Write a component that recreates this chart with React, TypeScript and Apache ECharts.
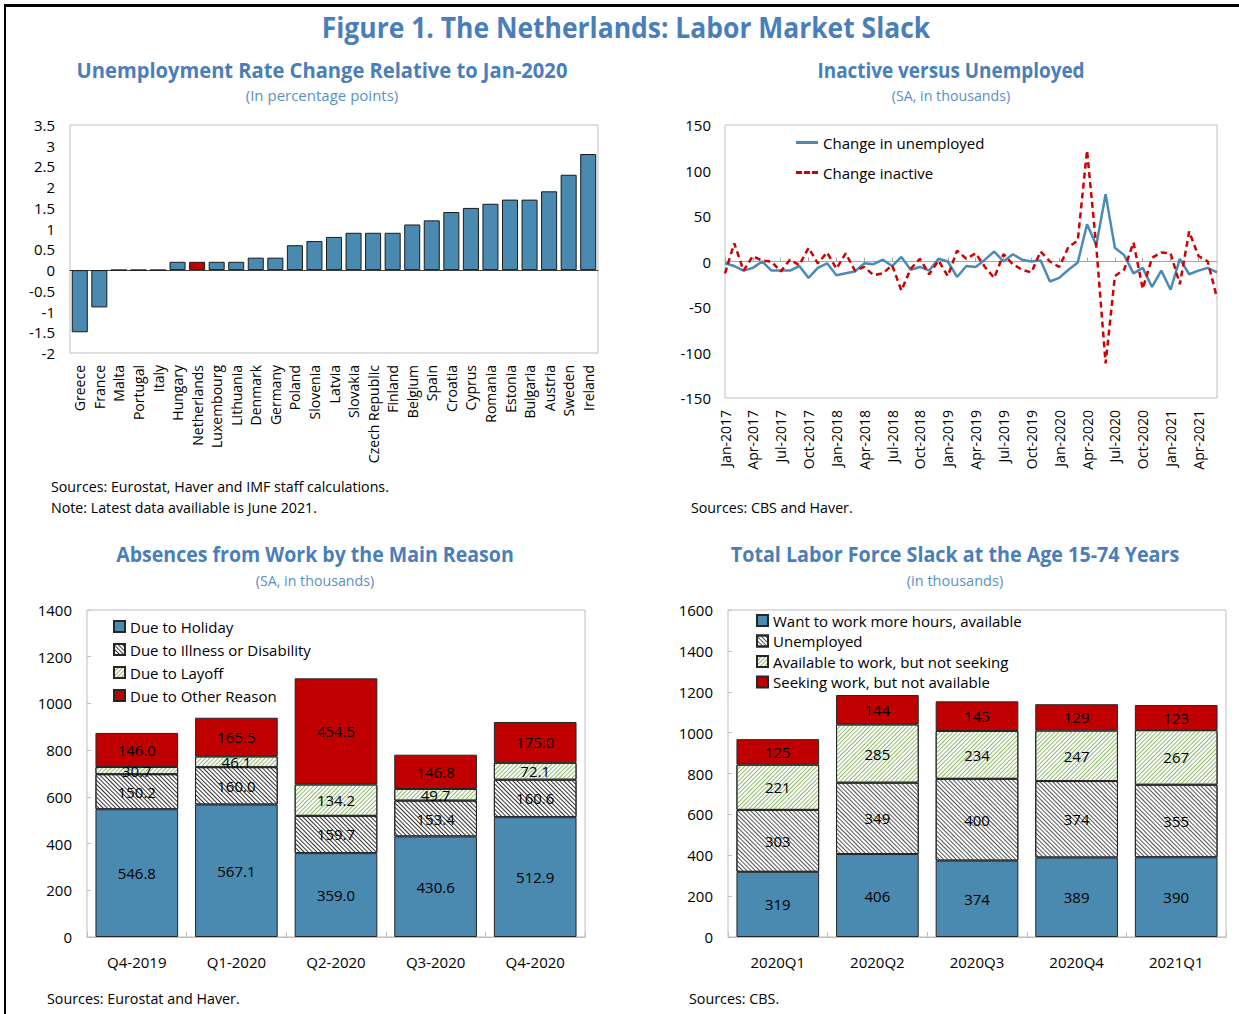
import React, { useEffect, useRef } from "react";
import * as echarts from "echarts";

const FONT = "'Open Sans', 'Noto Sans', sans-serif";
const TITLE_COLOR = "#4a7ebb";
const SUB_COLOR = "#5b8fc7";
const BLUE = "#4a89b0";
const RED = "#c00000";

// Top-left: unemployment rate change (pp)
const countries = [
  "Greece", "France", "Malta", "Portugal", "Italy", "Hungary", "Netherlands", "Luxembourg",
  "Lithuania", "Denmark", "Germany", "Poland", "Slovenia", "Latvia", "Slovakia", "Czech Republic",
  "Finland", "Belgium", "Spain", "Croatia", "Cyprus", "Romania", "Estonia", "Bulgaria",
  "Austria", "Sweden", "Ireland",
];
const rateChange = [
  -1.5, -0.9, 0, 0, 0, 0.2, 0.2, 0.2, 0.2, 0.3, 0.3, 0.6, 0.7, 0.8, 0.9, 0.9, 0.9, 1.1, 1.2, 1.4,
  1.5, 1.6, 1.7, 1.7, 1.9, 2.3, 2.8,
];
const yTicksTL = { min: -2, max: 3.5, step: 0.5 };

// Top-right: inactive vs unemployed (monthly, Jan-2017 .. Jun-2021)
const months = [
  "Jan-2017", "Feb-2017", "Mar-2017", "Apr-2017", "May-2017", "Jun-2017", "Jul-2017", "Aug-2017", "Sep-2017", "Oct-2017", "Nov-2017", "Dec-2017",
  "Jan-2018", "Feb-2018", "Mar-2018", "Apr-2018", "May-2018", "Jun-2018", "Jul-2018", "Aug-2018", "Sep-2018", "Oct-2018", "Nov-2018", "Dec-2018",
  "Jan-2019", "Feb-2019", "Mar-2019", "Apr-2019", "May-2019", "Jun-2019", "Jul-2019", "Aug-2019", "Sep-2019", "Oct-2019", "Nov-2019", "Dec-2019",
  "Jan-2020", "Feb-2020", "Mar-2020", "Apr-2020", "May-2020", "Jun-2020", "Jul-2020", "Aug-2020", "Sep-2020", "Oct-2020", "Nov-2020", "Dec-2020",
  "Jan-2021", "Feb-2021", "Mar-2021", "Apr-2021", "May-2021", "Jun-2021",
];
const unemployedChange = [
  -2, -5, -10, -7, 0, -10, -10, -10, -5, -18, -7, -2,
  -15, -13, -11, -2, -3, 2, -5, 5, -9, -6, -10, 3,
  0, -17, -5, -6, 2, 11, 0, 8, 2, 0, 1, -22,
  -18, -9, -1, 41, 18, 74, 15, 7, -13, -7, -28, -10,
  -31, 3, -14, -10, -7, -12,
];
const inactiveChange = [
  -13, 20, -10, 6, 1, 0, -11, 2, -4, 15, -2, 10,
  -8, 9, -10, -6, -15, -13, -4, -32, -8, 3, -14, 1,
  -16, 12, 3, 9, -6, -18, 8, -3, -9, -12, 11, 0,
  -6, 16, 23, 122, 16, -112, -16, -9, 21, -30, 4, 10,
  9, -25, 33, 6, 0, -40,
];
const yTicksTR = { min: -150, max: 150, step: 50 };

// Bottom-left: absences from work
const quartersAbs = ["Q4-2019", "Q1-2020", "Q2-2020", "Q3-2020", "Q4-2020"];
const holiday = [546.8, 567.1, 359.0, 430.6, 512.9];
const illness = [150.2, 160.0, 159.7, 153.4, 160.6];
const layoff = [30.7, 46.1, 134.2, 49.7, 72.1];
const otherReason = [146.0, 165.5, 454.5, 146.8, 175.0];
const yTicksBL = { min: 0, max: 1400, step: 200 };

// Bottom-right: labor force slack
const quartersSlack = ["2020Q1", "2020Q2", "2020Q3", "2020Q4", "2021Q1"];
const moreHours = [319, 406, 374, 389, 390];
const unemployed = [303, 349, 400, 374, 355];
const availNotSeeking = [221, 285, 234, 247, 267];
const seekingNotAvail = [125, 144, 145, 129, 123];
const yTicksBR = { min: 0, max: 1600, step: 200 };

const hatchDark = (color: string) => ({
  symbol: "rect",
  symbolSize: 1,
  color,
  backgroundColor: "#ffffff",
  dashArrayX: [1, 0],
  dashArrayY: [1, 2],
  rotation: Math.PI / 4,
});
const hatchGreen = {
  symbol: "rect",
  symbolSize: 1,
  color: "#8fba6c",
  backgroundColor: "#ffffff",
  dashArrayX: [1, 0],
  dashArrayY: [1, 2],
  rotation: -Math.PI / 4,
};

const ICON_SOLID = "path://M0,0H22V3H0Z";
const ICON_DASH = "path://M0,0H6V3H0Z M8,0H14V3H8Z M16,0H22V3H16Z";

function text(x: number, y: number, t: string, size: number, color: string, opts: any = {}) {
  return {
    type: "text",
    x,
    y,
    scaleX: opts.scaleX ?? 1,
    silent: true,
    style: {
      text: t,
      fill: color,
      fontSize: size,
      fontWeight: opts.bold ? "bold" : "normal",
      fontFamily: FONT,
      align: opts.align ?? "center",
      textAlign: opts.align ?? "center",
      verticalAlign: "middle",
      textVerticalAlign: "middle",
    },
  };
}

const axisText = { color: "#000", fontFamily: FONT };
const plainNum = (v: number) => String(v);

export default function App() {
  const ref = useRef<HTMLDivElement>(null);
  useEffect(() => {
    const chart = echarts.init(ref.current!, null, { renderer: "svg" });
    const barStyle = { borderColor: "#262626", borderWidth: 1 };
    const stackLabel = (fmt: (v: number) => string) => ({
      show: true,
      position: "inside",
      color: "#000",
      fontSize: 15,
      fontFamily: FONT,
      formatter: (p: any) => fmt(p.value),
    });
    const option: any = {
      animation: false,
      textStyle: { fontFamily: FONT },
      grid: [
        { left: 70, top: 125, width: 528, height: 228, show: true, borderColor: "#bfbfbf", borderWidth: 1 },
        { left: 725, top: 125, width: 492, height: 273, show: true, borderColor: "#bfbfbf", borderWidth: 1 },
        { left: 87, top: 610, width: 498, height: 327, show: true, borderColor: "#bfbfbf", borderWidth: 1 },
        { left: 728, top: 610, width: 498, height: 327, show: true, borderColor: "#bfbfbf", borderWidth: 1 },
      ],
      xAxis: [
        {
          gridIndex: 0, type: "category", data: countries,
          axisLine: { onZero: true, lineStyle: { color: "#404040", width: 1 } },
          axisTick: { show: false },
          axisLabel: { ...axisText, rotate: 90, margin: 12, fontSize: 14, interval: 0 },
        },
        {
          gridIndex: 1, type: "category", data: months, boundaryGap: false,
          axisLine: { onZero: true, lineStyle: { color: "#a6a6a6", width: 1 } },
          axisTick: { show: true, inside: true, length: 4, interval: (i: number) => i % 3 === 0, lineStyle: { color: "#a6a6a6" } },
          axisLabel: { ...axisText, rotate: 90, margin: 12, fontSize: 14, interval: (i: number) => i % 3 === 0 },
        },
        {
          gridIndex: 2, type: "category", data: quartersAbs,
          axisLine: { lineStyle: { color: "#bfbfbf" } },
          axisTick: { show: true, inside: true, length: 5, lineStyle: { color: "#bfbfbf" } },
          axisLabel: { ...axisText, margin: 17, fontSize: 15 },
        },
        {
          gridIndex: 3, type: "category", data: quartersSlack,
          axisLine: { lineStyle: { color: "#bfbfbf" } },
          axisTick: { show: true, inside: true, length: 5, lineStyle: { color: "#bfbfbf" } },
          axisLabel: { ...axisText, margin: 17, fontSize: 15 },
        },
      ],
      yAxis: [
        {
          gridIndex: 0, type: "value", min: yTicksTL.min, max: yTicksTL.max, interval: yTicksTL.step,
          splitLine: { show: false }, axisLine: { show: false }, axisTick: { show: false },
          axisLabel: { ...axisText, fontSize: 15, margin: 15, formatter: plainNum },
        },
        {
          gridIndex: 1, type: "value", min: yTicksTR.min, max: yTicksTR.max, interval: yTicksTR.step,
          splitLine: { show: false }, axisLine: { show: false }, axisTick: { show: false },
          axisLabel: { ...axisText, fontSize: 15, margin: 14, formatter: plainNum },
        },
        {
          gridIndex: 2, type: "value", min: yTicksBL.min, max: yTicksBL.max, interval: yTicksBL.step,
          splitLine: { show: false }, axisLine: { show: false },
          axisTick: { show: true, inside: true, length: 4, lineStyle: { color: "#bfbfbf" } },
          axisLabel: { ...axisText, fontSize: 15, margin: 15, formatter: plainNum },
        },
        {
          gridIndex: 3, type: "value", min: yTicksBR.min, max: yTicksBR.max, interval: yTicksBR.step,
          splitLine: { show: false }, axisLine: { show: false },
          axisTick: { show: true, inside: true, length: 4, lineStyle: { color: "#bfbfbf" } },
          axisLabel: { ...axisText, fontSize: 15, margin: 15, formatter: plainNum },
        },
      ],
      legend: [
        {
          data: [
            { name: "Change in unemployed", icon: ICON_SOLID },
            { name: "Change inactive", icon: ICON_DASH },
          ],
          orient: "vertical", left: 796, top: 135, padding: 0, itemWidth: 22, itemHeight: 3, itemGap: 15,
          textStyle: { ...axisText, fontSize: 15, lineHeight: 15 },
        },
        {
          data: ["Due to Holiday", "Due to Illness or Disability", "Due to Layoff", "Due to Other Reason"],
          orient: "vertical", left: 113, top: 619, padding: 0, itemWidth: 11, itemHeight: 11, itemGap: 8, icon: "rect",
          textStyle: { ...axisText, fontSize: 15, lineHeight: 15 },
        },
        {
          data: ["Want to work more hours, available", "Unemployed", "Available to work, but not seeking", "Seeking work, but not available"],
          orient: "vertical", left: 756, top: 613, padding: 0, itemWidth: 11, itemHeight: 11, itemGap: 5.5, icon: "rect",
          textStyle: { ...axisText, fontSize: 15, lineHeight: 15 },
        },
      ],
      series: [
        {
          type: "bar", name: "Unemployment rate change", xAxisIndex: 0, yAxisIndex: 0,
          barCategoryGap: "18%",
          data: rateChange.map((v, i) => ({
            value: v,
            itemStyle: { color: countries[i] === "Netherlands" ? RED : BLUE },
          })),
          itemStyle: { borderColor: "#1a1a1a", borderWidth: 1 },
        },
        {
          type: "line", name: "Change in unemployed", xAxisIndex: 1, yAxisIndex: 1,
          data: unemployedChange, symbol: "none", color: "#4a89b8",
          lineStyle: { color: "#4a89b8", width: 2.5 },
        },
        {
          type: "line", name: "Change inactive", xAxisIndex: 1, yAxisIndex: 1,
          data: inactiveChange, symbol: "none", color: "#d00000",
          lineStyle: { color: "#d00000", width: 2.5, type: [6, 4] },
        },
        {
          type: "bar", name: "Due to Holiday", xAxisIndex: 2, yAxisIndex: 2, stack: "abs", barCategoryGap: "17%",
          data: holiday, itemStyle: { color: BLUE, ...barStyle }, label: stackLabel((v) => v.toFixed(1)),
        },
        {
          type: "bar", name: "Due to Illness or Disability", xAxisIndex: 2, yAxisIndex: 2, stack: "abs",
          data: illness, itemStyle: { color: "#ffffff", decal: hatchDark("#333333"), ...barStyle }, label: stackLabel((v) => v.toFixed(1)),
        },
        {
          type: "bar", name: "Due to Layoff", xAxisIndex: 2, yAxisIndex: 2, stack: "abs",
          data: layoff, itemStyle: { color: "#ffffff", decal: hatchGreen, ...barStyle }, label: stackLabel((v) => v.toFixed(1)),
        },
        {
          type: "bar", name: "Due to Other Reason", xAxisIndex: 2, yAxisIndex: 2, stack: "abs",
          data: otherReason, itemStyle: { color: RED, ...barStyle }, label: stackLabel((v) => v.toFixed(1)),
        },
        {
          type: "bar", name: "Want to work more hours, available", xAxisIndex: 3, yAxisIndex: 3, stack: "slack", barCategoryGap: "17%",
          data: moreHours, itemStyle: { color: BLUE, ...barStyle }, label: stackLabel((v) => String(v)),
        },
        {
          type: "bar", name: "Unemployed", xAxisIndex: 3, yAxisIndex: 3, stack: "slack",
          data: unemployed, itemStyle: { color: "#ffffff", decal: hatchDark("#555555"), ...barStyle }, label: stackLabel((v) => String(v)),
        },
        {
          type: "bar", name: "Available to work, but not seeking", xAxisIndex: 3, yAxisIndex: 3, stack: "slack",
          data: availNotSeeking, itemStyle: { color: "#ffffff", decal: hatchGreen, ...barStyle }, label: stackLabel((v) => String(v)),
        },
        {
          type: "bar", name: "Seeking work, but not available", xAxisIndex: 3, yAxisIndex: 3, stack: "slack",
          data: seekingNotAvail, itemStyle: { color: RED, ...barStyle }, label: stackLabel((v) => String(v)),
        },
      ],
      graphic: [
        { type: "rect", shape: { x: 4, y: 4, width: 1235, height: 3 }, style: { fill: "#000" }, silent: true },
        { type: "rect", shape: { x: 4, y: 4, width: 2, height: 1010 }, style: { fill: "#000" }, silent: true },
        text(626, 27, "Figure 1. The Netherlands: Labor Market Slack", 28, TITLE_COLOR, { bold: true, scaleX: 0.945 }),
        text(322, 69, "Unemployment Rate Change Relative to Jan-2020", 22, TITLE_COLOR, { bold: true, scaleX: 0.915 }),
        text(322, 95, "(In percentage points)", 15, SUB_COLOR, { scaleX: 1.0 }),
        text(951, 69, "Inactive versus Unemployed", 22, TITLE_COLOR, { bold: true, scaleX: 0.86 }),
        text(951, 95, "(SA, in thousands)", 15, SUB_COLOR, { scaleX: 0.95 }),
        text(315, 554, "Absences from Work by the Main Reason", 22, TITLE_COLOR, { bold: true, scaleX: 0.888 }),
        text(315, 580, "(SA, in thousands)", 15, SUB_COLOR, { scaleX: 0.95 }),
        text(955, 554, "Total Labor Force Slack at the Age 15-74 Years", 22, TITLE_COLOR, { bold: true, scaleX: 0.896 }),
        text(955, 580, "(in thousands)", 15, SUB_COLOR, { scaleX: 0.97 }),
        text(51, 486, "Sources: Eurostat, Haver and IMF staff calculations.", 15, "#000", { align: "left", scaleX: 0.95 }),
        text(51, 507, "Note: Latest data availiable is June 2021.", 15, "#000", { align: "left", scaleX: 0.95 }),
        text(691, 507, "Sources: CBS and Haver.", 15, "#000", { align: "left", scaleX: 0.95 }),
        text(47, 998, "Sources: Eurostat and Haver.", 15, "#000", { align: "left", scaleX: 0.955 }),
        text(689, 998, "Sources: CBS.", 15, "#000", { align: "left", scaleX: 0.955 }),
      ],
    };
    chart.setOption(option);
    return () => chart.dispose();
  }, []);
  return (
    <div
      ref={ref}
      style={{ position: "absolute", left: 0, top: 0, width: 1239, height: 1014, background: "#fff" }}
    />
  );
}
